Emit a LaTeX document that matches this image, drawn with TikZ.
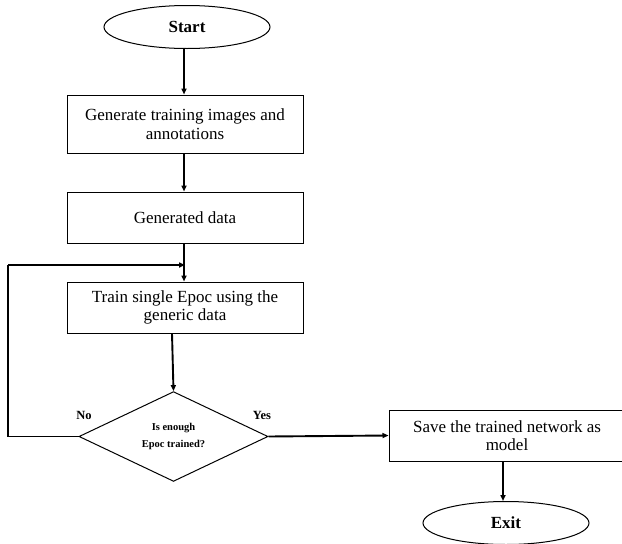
\documentclass[tikz,border=0pt]{standalone}
\usepackage{fontspec}
\setmainfont{Liberation Serif}
\usetikzlibrary{shapes.geometric,arrows.meta}
\begin{document}
\begin{tikzpicture}[x=1pt,y=-1pt,
  every node/.style={font=\fontsize{17}{18.5}\selectfont, align=center, inner sep=0pt},
  procbox/.style={draw, line width=1pt, minimum width=236pt},
  terminal/.style={draw, ellipse, line width=1pt, minimum width=166pt, minimum height=43pt, font=\fontsize{17}{18.5}\selectfont\bfseries},
  decision/.style={draw, diamond, line width=1pt, minimum width=189pt, minimum height=87pt, font=\fontsize{10.5}{17}\selectfont\bfseries},
  branchlabel/.style={font=\fontsize{12.5}{14}\selectfont\bfseries},
  flow/.style={line width=1.9pt, -{Triangle[length=6pt,width=5pt]}},
  plain/.style={line width=1.9pt}
]
\useasboundingbox[fill=white] (0,0) rectangle (622,544);

% terminals, process boxes and the decision
\node[terminal] (start) at (187,27) {Start};
\node[procbox, minimum height=58pt] (gen) at (185,124) {Generate training images and\\annotations};
\node[procbox, minimum height=51pt] (data) at (185,217.5) {Generated data};
\node[procbox, minimum height=51pt] (train) at (185,307.5) {Train single Epoc using the\\generic data};
\node[decision] (check) at (173.5,436.5) {Is enough\\Epoc trained?};
\node[procbox, minimum height=51pt] (save) at (507,435.5) {Save the trained network as\\model};
\node[terminal] (exit) at (506,523) {Exit};

\node[branchlabel] (no) at (84,415) {No};
\node[branchlabel] (yes) at (262,415) {Yes};

% main flow
\draw[flow] (start.south -| 184,0) -- (184,0 |- gen.north);
\draw[flow] (gen.south -| 184,0) -- (184,0 |- data.north);
\draw[plain] (data.south -| 184,0) coordinate (d1) -- (184,265) coordinate (merge);
\draw[flow] (merge) -- (184,0 |- train.north);
\draw[flow] (train.south -| 172,0) -- (check.north);
\draw[flow] (check.east) -- (save.west);
\draw[flow] (save.south -| 503,0) -- (503,0 |- exit.north);

% loop back when more epochs are needed
\coordinate (loopcorner) at (8,265);
\draw[plain] (check.west) -- (8,0 |- check.west) -- (loopcorner);
\draw[flow, shorten >=-1pt] (loopcorner) -- (merge);
\end{tikzpicture}
\end{document}
